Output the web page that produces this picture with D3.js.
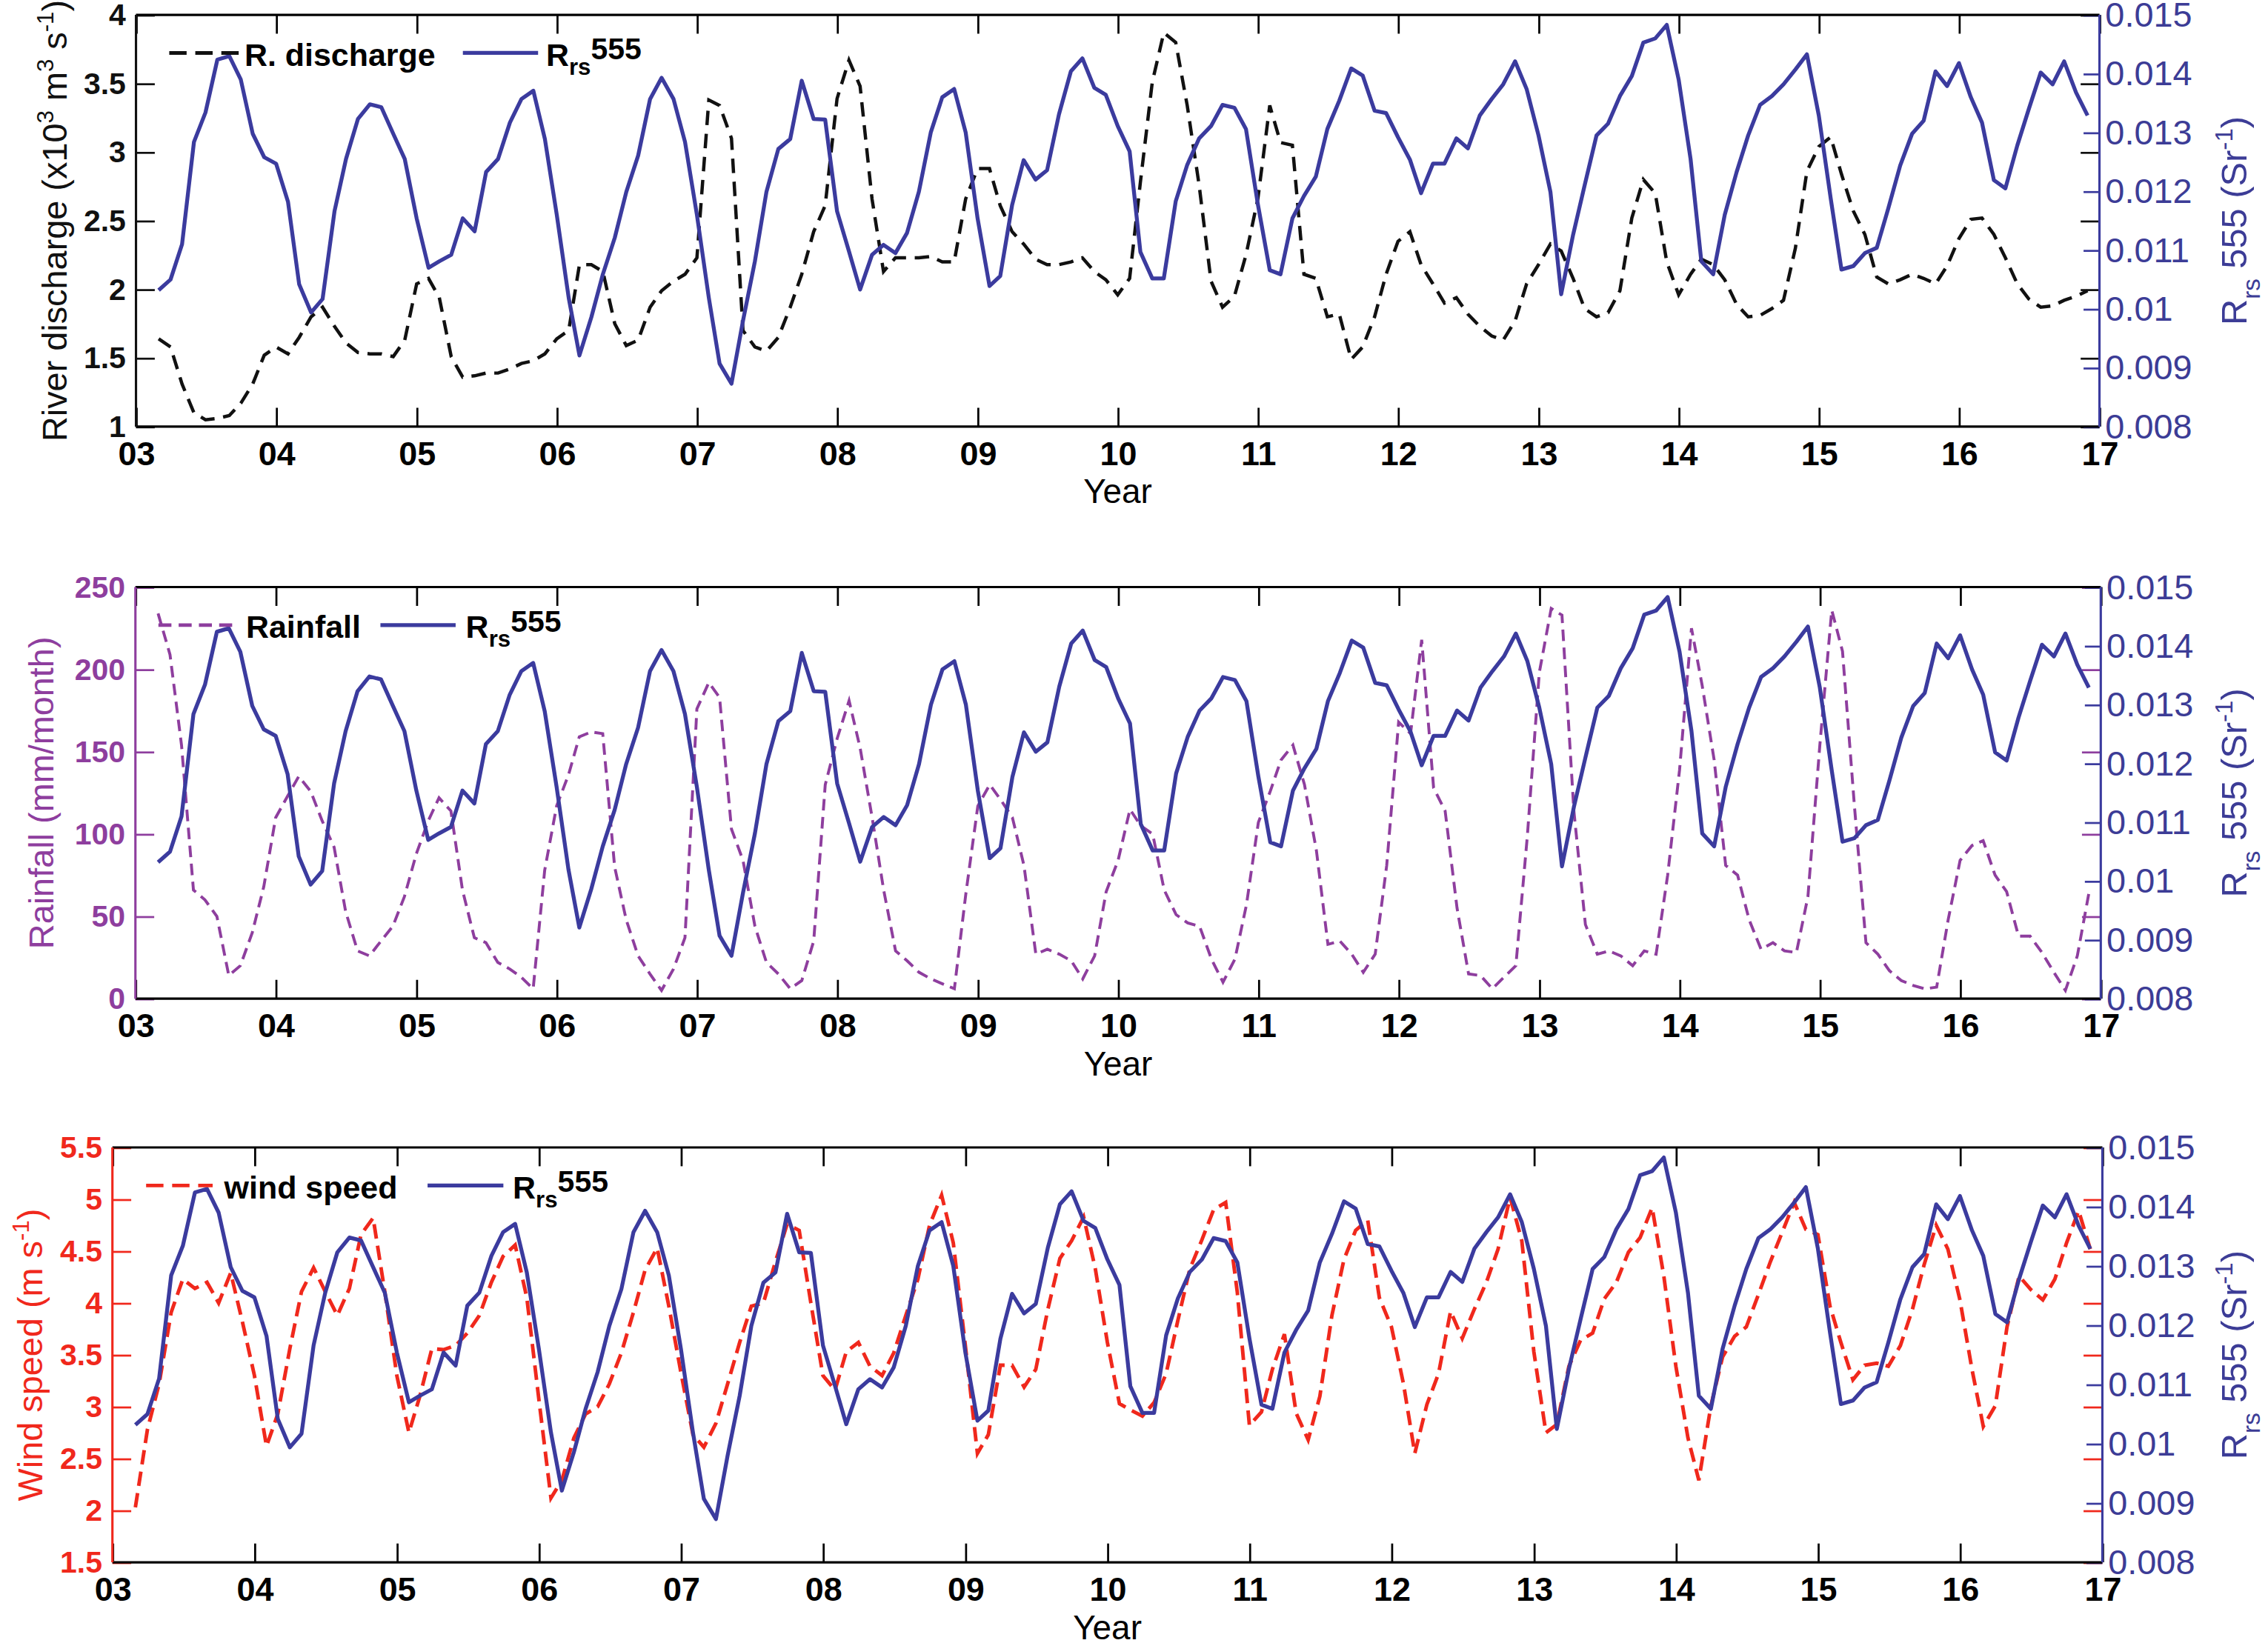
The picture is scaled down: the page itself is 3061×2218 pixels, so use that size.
<!DOCTYPE html>
<html>
<head>
<meta charset="utf-8">
<script src="https://cdn.jsdelivr.net/npm/d3@7"></script>
<style>
  body { margin: 0; background: #fff; }
  svg { display: block; }
  text { font-family: 'Liberation Sans', Arial, Helvetica, sans-serif; }
</style>
</head>
<body>
<div id="chart"></div>
<script>
// monthly series, Mar 2003 .. Dec 2016 (166 values each)
const yearTicks = ['03', '04', '05', '06', '07', '08', '09', '10', '11', '12', '13', '14', '15', '16', '17'];

const rrs555 = [
  0.01032, 0.01050, 0.01110, 0.01284, 0.01334, 0.01424, 0.01430, 0.01390, 0.01298, 0.01258,
  0.01247, 0.01182, 0.01042, 0.00994, 0.01017, 0.01166, 0.01255, 0.01323, 0.01348, 0.01343, 0.01298, 0.01255,
  0.01154, 0.01070, 0.01081, 0.01092, 0.01154, 0.01132, 0.01233, 0.01255, 0.01317, 0.01357, 0.01371, 0.01289,
  0.01160, 0.01019, 0.00921, 0.00986, 0.01059, 0.01121, 0.01199, 0.01261, 0.01357, 0.01393, 0.01357, 0.01284,
  0.01160, 0.01019, 0.00907, 0.00873, 0.00980, 0.01081, 0.01199, 0.01272, 0.01289, 0.01388, 0.01323, 0.01322,
  0.01166, 0.01098, 0.01033, 0.01092, 0.01109, 0.01095, 0.01129, 0.01199, 0.01300, 0.01360, 0.01374, 0.01300,
  0.01154, 0.01039, 0.01056, 0.01177, 0.01253, 0.01220, 0.01236, 0.01331, 0.01404, 0.01426, 0.01376, 0.01364,
  0.01311, 0.01268, 0.01097, 0.01052, 0.01052, 0.01183, 0.01245, 0.01290, 0.01311, 0.01347, 0.01342, 0.01306,
  0.01178, 0.01066, 0.01059, 0.01154, 0.01192, 0.01225, 0.01306, 0.01354, 0.01409, 0.01397, 0.01337, 0.01333,
  0.01292, 0.01254, 0.01197, 0.01247, 0.01247, 0.01290, 0.01273, 0.01329, 0.01357, 0.01382, 0.01421, 0.01374,
  0.01295, 0.01199, 0.01025, 0.01126, 0.01210, 0.01295, 0.01315, 0.01362, 0.01396, 0.01453, 0.01460, 0.01483,
  0.01390, 0.01255, 0.01081, 0.01059, 0.01160, 0.01233, 0.01295, 0.01347, 0.01362, 0.01382, 0.01407, 0.01433,
  0.01329, 0.01188, 0.01067, 0.01073, 0.01095, 0.01104, 0.01171, 0.01244, 0.01298, 0.01320, 0.01404, 0.01379,
  0.01418, 0.01360, 0.01317, 0.01219, 0.01205, 0.01278, 0.01340, 0.01402, 0.01382, 0.01421, 0.01368, 0.01329
];

// river discharge, x10^3 m3/s
const discharge = [
  1.64, 1.58, 1.31, 1.10, 1.05, 1.06, 1.08, 1.17, 1.31, 1.52,
  1.58, 1.53, 1.65, 1.80, 1.87, 1.73, 1.61, 1.54, 1.53, 1.53, 1.51, 1.63,
  2.04, 2.08, 1.94, 1.51, 1.36, 1.37, 1.39, 1.39, 1.42, 1.46, 1.48, 1.53,
  1.64, 1.70, 2.18, 2.18, 2.13, 1.75, 1.59, 1.63, 1.87, 1.99, 2.06, 2.11,
  2.23, 3.38, 3.34, 3.10, 1.70, 1.58, 1.55, 1.65, 1.87, 2.11, 2.42, 2.61,
  3.39, 3.67, 3.48, 2.66, 2.13, 2.23, 2.23, 2.23, 2.24, 2.20, 2.20, 2.66,
  2.88, 2.88, 2.61, 2.42, 2.33, 2.22, 2.18, 2.18, 2.20, 2.23, 2.13, 2.07,
  1.96, 2.08, 2.78, 3.51, 3.87, 3.80, 3.34, 2.76, 2.06, 1.87, 1.95, 2.25,
  2.66, 3.34, 3.07, 3.05, 2.11, 2.08, 1.80, 1.82, 1.49, 1.58, 1.80, 2.11,
  2.35, 2.42, 2.18, 2.04, 1.90, 1.94, 1.82, 1.73, 1.66, 1.63, 1.77, 2.04,
  2.18, 2.33, 2.28, 2.08, 1.86, 1.80, 1.83, 1.99, 2.52, 2.80, 2.70, 2.20,
  1.96, 2.11, 2.22, 2.18, 2.07, 1.89, 1.80, 1.81, 1.86, 1.92, 2.30, 2.86,
  3.04, 3.11, 2.84, 2.57, 2.40, 2.09, 2.04, 2.07, 2.11, 2.08, 2.04, 2.17,
  2.37, 2.51, 2.52, 2.40, 2.23, 2.04, 1.93, 1.87, 1.88, 1.92, 1.95, 1.99
];

// rainfall, mm/month
const rainfall = [
  234, 209, 154, 66, 60, 50, 14, 20, 40, 68,
  110, 123, 135, 126, 108, 92, 53, 29, 26, 35, 44, 62,
  88, 108, 122, 114, 66, 37, 34, 22, 18, 13, 6, 78,
  117, 136, 159, 162, 161, 80, 48, 26, 15, 5, 18, 37,
  176, 192, 183, 103, 84, 44, 22, 15, 6, 11, 35, 130,
  158, 181, 152, 110, 66, 29, 23, 16, 12, 9, 6, 64,
  117, 130, 121, 110, 81, 27, 30, 27, 23, 12, 26, 65,
  84, 115, 105, 100, 66, 51, 46, 44, 24, 10, 24, 57,
  107, 126, 145, 154, 130, 90, 33, 35, 27, 16, 27, 81,
  168, 161, 218, 128, 114, 55, 15, 14, 6, 13, 20, 99,
  198, 237, 233, 114, 45, 27, 29, 26, 20, 29, 27, 75,
  139, 225, 190, 145, 81, 75, 48, 30, 34, 29, 28, 62,
  154, 236, 211, 117, 34, 27, 17, 11, 8, 6, 7, 48,
  84, 93, 96, 75, 65, 38, 38, 28, 16, 5, 26, 64
];

// wind speed, m/s
const windSpeed = [
  2.03, 2.78, 3.22, 3.91, 4.23, 4.14, 4.20, 4.00, 4.29, 3.82,
  3.30, 2.62, 2.93, 3.56, 4.11, 4.34, 4.11, 3.88, 4.14, 4.66, 4.82, 4.11,
  3.30, 2.75, 3.10, 3.56, 3.55, 3.59, 3.71, 3.88, 4.20, 4.45, 4.56, 4.05,
  3.07, 2.12, 2.29, 2.70, 2.93, 3.00, 3.22, 3.52, 3.91, 4.32, 4.53, 3.97,
  3.33, 2.73, 2.61, 2.84, 3.22, 3.62, 3.97, 4.00, 4.40, 4.76, 4.70, 4.00,
  3.30, 3.16, 3.53, 3.62, 3.39, 3.30, 3.52, 3.88, 4.23, 4.75, 5.04, 4.58,
  3.59, 2.55, 2.73, 3.40, 3.40, 3.19, 3.36, 3.94, 4.43, 4.60, 4.83, 4.33,
  3.62, 3.03, 2.97, 2.91, 3.04, 3.32, 3.83, 4.33, 4.61, 4.90, 4.97, 4.10,
  2.82, 2.95, 3.36, 3.70, 2.94, 2.68, 3.10, 3.88, 4.42, 4.70, 4.80, 4.05,
  3.77, 3.22, 2.55, 3.02, 3.32, 3.92, 3.66, 3.94, 4.20, 4.52, 5.02, 4.60,
  3.53, 2.75, 2.83, 3.39, 3.64, 3.71, 4.04, 4.20, 4.49, 4.63, 4.92, 4.26,
  3.39, 2.70, 2.29, 3.01, 3.48, 3.68, 3.77, 4.08, 4.40, 4.68, 4.97, 4.71,
  4.66, 3.97, 3.62, 3.26, 3.40, 3.42, 3.39, 3.59, 3.94, 4.37, 4.75, 4.52,
  4.03, 3.36, 2.81, 3.01, 3.77, 4.26, 4.13, 4.03, 4.23, 4.58, 4.89, 4.52
];

const rrsTicks = [0.008, 0.009, 0.01, 0.011, 0.012, 0.013, 0.014, 0.015];
const dischargeTicks = [1, 1.5, 2, 2.5, 3, 3.5, 4];
const rainTicks = [0, 50, 100, 150, 200, 250];
const windTicks = [1.5, 2, 2.5, 3, 3.5, 4, 4.5, 5, 5.5];

const months = d3.timeMonth.range(new Date(2003, 2, 1), new Date(2017, 0, 1));
const yearDates = yearTicks.map((t) => new Date(2000 + +t, 0, 1));

const blue = '#3b3b9e';
const blueText = '#3c3c96';

const svg = d3
  .select('#chart')
  .append('svg')
  .attr('width', 3061)
  .attr('height', 2218)
  .attr('viewBox', '0 0 1568 1136.2');

const panels = [
  {
    left: 94, right: 1451.5, top: 10.3, bottom: 295,
    series: discharge, domain: [1, 4], ticks: dischargeTicks,
    color: '#111', dash: '10,6', width: 2.3,
    label: 'R. discharge', leg: { x1: 117, x2: 165, text: 169, b1: 320, b2: 372, r: 377.5 },
    legDash: '12,6',
    title: [['River discharge (x10', 0], ['3', 1], [' m', 0], ['3', 1], [' s', 0], ['-1', 1], [')', 0]],
    titleX: 46,
  },
  {
    left: 93.6, right: 1452.4, top: 406, bottom: 690.6,
    series: rainfall, domain: [0, 250], ticks: rainTicks,
    color: '#8e3e9e', dash: '8,4.5', width: 2.0,
    label: 'Rainfall', leg: { x1: 109.5, x2: 163.4, text: 170, b1: 263, b2: 315, r: 322 },
    legDash: '9,5',
    title: [['Rainfall (mm/month)', 0]],
    titleX: 37,
  },
  {
    left: 77.7, right: 1453.5, top: 793.5, bottom: 1080.4,
    series: windSpeed, domain: [1.5, 5.5], ticks: windTicks,
    color: '#f0281c', dash: '10,5', width: 2.5,
    label: 'wind speed', leg: { x1: 101, x2: 147, text: 155, b1: 295.6, b2: 348, r: 354.5 },
    legDash: '12,6',
    title: [['Wind speed (m s', 0], ['-1', 1], [')', 0]],
    titleX: 29,
  },
];

function styleAxis(sel, color) {
  sel.select('.domain').remove();
  sel.selectAll('.tick line').attr('stroke', color).attr('stroke-width', 1.4);
  sel.selectAll('.tick text').attr('fill', color).style('font-family', "'Liberation Sans', Arial, sans-serif");
}

function addRich(text, parts, big, small) {
  // parts: [string, 0 normal | 1 superscript | -1 subscript]
  let level = 0;
  for (const [s, lv] of parts) {
    const shift = (lv - level) * -big * 0.38;
    text.append('tspan')
      .attr('dy', shift)
      .style('font-size', (lv === 0 ? big : small) + 'px')
      .text(s);
    level = lv;
  }
}

function drawPanel(p) {
  const x = d3.scaleTime().domain([new Date(2003, 0, 1), new Date(2017, 0, 1)]).range([p.left, p.right]);
  const yL = d3.scaleLinear().domain(p.domain).range([p.bottom, p.top]);
  const yR = d3.scaleLinear().domain([0.008, 0.015]).range([p.bottom, p.top]);
  const g = svg.append('g');

  // x axes (inward ticks)
  g.append('g')
    .attr('transform', `translate(0,${p.bottom})`)
    .call(d3.axisBottom(x).tickValues(yearDates).tickFormat((d, i) => yearTicks[i]).tickSize(-13))
    .call(styleAxis, '#000')
    .selectAll('.tick text')
    .attr('y', 26.5).attr('dy', 0)
    .style('font-size', '23px').style('font-weight', 'bold');

  g.append('g')
    .attr('transform', `translate(0,${p.top})`)
    .call(d3.axisTop(x).tickValues(yearDates).tickFormat('').tickSize(-13))
    .call(styleAxis, '#000');

  // left axis
  g.append('g')
    .attr('transform', `translate(${p.left},0)`)
    .call(d3.axisLeft(yL).tickValues(p.ticks).tickFormat((d) => String(d)).tickSize(-13))
    .call(styleAxis, p.color)
    .selectAll('.tick text')
    .attr('x', -7)
    .style('font-size', '21px').style('font-weight', 'bold');

  // left ticks mirrored on the right side
  g.append('g')
    .attr('transform', `translate(${p.right},0)`)
    .call(d3.axisRight(yL).tickValues(p.ticks).tickFormat('').tickSize(-13))
    .call(styleAxis, p.color);

  // right axis (Rrs)
  g.append('g')
    .attr('transform', `translate(${p.right},0)`)
    .call(d3.axisRight(yR).tickValues(rrsTicks).tickFormat((d) => String(d)).tickSize(-11))
    .call(styleAxis, blue)
    .selectAll('.tick text')
    .attr('x', 4)
    .attr('fill', blueText)
    .style('font-size', '24px');

  // frame
  g.append('line').attr('x1', p.left).attr('x2', p.right).attr('y1', p.top).attr('y2', p.top)
    .attr('stroke', '#000').attr('stroke-width', 1.6);
  g.append('line').attr('x1', p.left).attr('x2', p.right).attr('y1', p.bottom).attr('y2', p.bottom)
    .attr('stroke', '#000').attr('stroke-width', 1.6);
  g.append('line').attr('x1', p.left).attr('x2', p.left).attr('y1', p.top).attr('y2', p.bottom)
    .attr('stroke', p.color).attr('stroke-width', 1.6);
  g.append('line').attr('x1', p.right).attr('x2', p.right).attr('y1', p.top).attr('y2', p.bottom)
    .attr('stroke', blue).attr('stroke-width', 1.6);

  // data lines
  const lineL = d3.line().x((d, i) => x(months[i])).y((d) => yL(d));
  const lineR = d3.line().x((d, i) => x(months[i])).y((d) => yR(d));

  g.append('path')
    .datum(p.series)
    .attr('d', lineL)
    .attr('fill', 'none')
    .attr('stroke', p.color)
    .attr('stroke-width', p.width)
    .attr('stroke-dasharray', p.dash);

  g.append('path')
    .datum(rrs555)
    .attr('d', lineR)
    .attr('fill', 'none')
    .attr('stroke', blue)
    .attr('stroke-width', 2.7)
    .attr('stroke-linejoin', 'round');

  // legend
  const ly = p.top + 26.3;
  const ty = p.top + 35.3;
  g.append('line').attr('x1', p.leg.x1).attr('x2', p.leg.x2).attr('y1', ly).attr('y2', ly)
    .attr('stroke', p.color).attr('stroke-width', 2.5).attr('stroke-dasharray', p.legDash);
  g.append('text').attr('x', p.leg.text).attr('y', ty)
    .style('font-size', '22px').style('font-weight', 'bold').text(p.label);
  g.append('line').attr('x1', p.leg.b1).attr('x2', p.leg.b2).attr('y1', ly).attr('y2', ly)
    .attr('stroke', blue).attr('stroke-width', 2.7);
  const rt = g.append('text').attr('x', p.leg.r).attr('y', ty)
    .style('font-size', '22px').style('font-weight', 'bold');
  rt.append('tspan').text('R');
  rt.append('tspan').attr('dy', 6).style('font-size', '16px').text('rs');
  rt.append('tspan').attr('dy', -10.5).style('font-size', '21px').text('555');

  // x label
  g.append('text')
    .attr('x', (p.left + p.right) / 2)
    .attr('y', p.bottom + 53)
    .attr('text-anchor', 'middle')
    .style('font-size', '23.5px')
    .text('Year');

  // left title
  const lt = g.append('text')
    .attr('transform', `translate(${p.titleX},${(p.top + p.bottom) / 2}) rotate(-90)`)
    .attr('text-anchor', 'middle')
    .attr('fill', p.color);
  addRich(lt, p.title, 24, 16);

  // right title
  const rtt = g.append('text')
    .attr('transform', `translate(1553,${(p.top + p.bottom) / 2}) rotate(-90)`)
    .attr('text-anchor', 'middle')
    .attr('fill', blueText);
  addRich(rtt, [['R', 0], ['rs', -1], [' 555 (Sr', 0], ['-1', 1], [')', 0]], 25, 17);
}

panels.forEach(drawPanel);
</script>
</body>
</html>
